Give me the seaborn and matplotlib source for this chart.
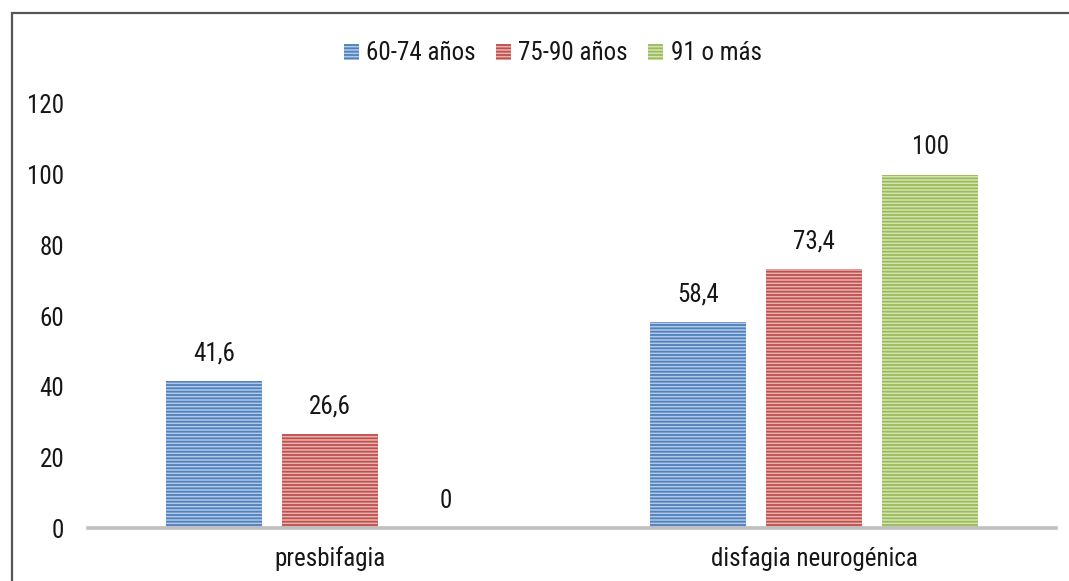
import matplotlib
matplotlib.use("Agg")
import matplotlib.pyplot as plt
from matplotlib.patches import Patch, Rectangle
from matplotlib import font_manager as fm
import seaborn as sns
import pandas as pd

# Dysphagia prevalence (%) by age group
categories = ["presbifagia", "disfagia neurogénica"]
groups = ["60-74 años", "75-90 años", "91 o más"]
values_60_74 = [41.6, 58.4]
values_75_90 = [26.6, 73.4]
values_91 = [0, 100]
yticks = [0, 20, 40, 60, 80, 100, 120]

dark = ["#4F81BD", "#C0504D", "#9BBB59"]
light = ["#B3C8E6", "#E6B3B2", "#D3E4B4"]

df = pd.DataFrame({
    "categoria": categories * 3,
    "grupo": [groups[0]] * 2 + [groups[1]] * 2 + [groups[2]] * 2,
    "valor": values_60_74 + values_75_90 + values_91,
})

sns.set_style("white")
installed = {f.name for f in fm.fontManager.ttflist}
narrow = [n for n in ["Liberation Sans Narrow", "Arial Narrow", "Roboto Condensed",
                      "Archivo Narrow", "PT Sans Narrow", "IBM Plex Sans Condensed"]
          if n in installed]
plt.rcParams["font.family"] = narrow[:1] + ["DejaVu Sans"]
plt.rcParams["hatch.linewidth"] = 1.3

FS = 18
TXT = "#161616"

fig = plt.figure(figsize=(10.69, 5.81), dpi=100)
ax = fig.add_axes([0.0823, 0.0912, 0.9055, 0.7298])

sns.barplot(data=df, x="categoria", y="valor", hue="grupo", order=categories,
            hue_order=groups, palette=light, width=0.72, gap=0.175,
            errorbar=None, legend=False, ax=ax)

for i, cont in enumerate(ax.containers):
    for bar in cont:
        bar.set_facecolor(light[i])
        bar.set_edgecolor(dark[i])
        bar.set_hatch("-----")
        bar.set_linewidth(0)
    labels = [f"{v:g}".replace(".", ",") for v in cont.datavalues]
    ax.bar_label(cont, labels=labels, padding=11, fontsize=FS, color=TXT)

ax.set_xlim(-0.5, 1.5)
ax.set_ylim(0, 120)
ax.set_yticks(yticks)
ax.set_xlabel("")
ax.set_ylabel("")
ax.tick_params(axis="y", length=0, pad=17, labelsize=FS, labelcolor=TXT)
ax.tick_params(axis="x", length=0, pad=13, labelsize=FS, labelcolor=TXT)
for s in ["top", "right", "left"]:
    ax.spines[s].set_visible(False)
ax.spines["bottom"].set_color("#BFBFBF")
ax.spines["bottom"].set_linewidth(2.6)

handles = [Patch(facecolor=light[i], edgecolor=dark[i], hatch="-----", linewidth=0,
                 label=groups[i]) for i in range(3)]
fig.legend(handles=handles, loc="center", bbox_to_anchor=(0.517, 0.908), ncol=3,
           frameon=False, fontsize=FS, handlelength=0.6, handleheight=0.6,
           handletextpad=0.3, columnspacing=0.8, labelcolor=TXT)

# outer frame
fig.patches.append(Rectangle((12 / 1069, -0.05), 1.2, 1 - 13 / 581 + 0.05,
                             transform=fig.transFigure, fill=False,
                             edgecolor="#555555", linewidth=1.6))

fig.savefig("out.png", dpi=100, facecolor="white")
